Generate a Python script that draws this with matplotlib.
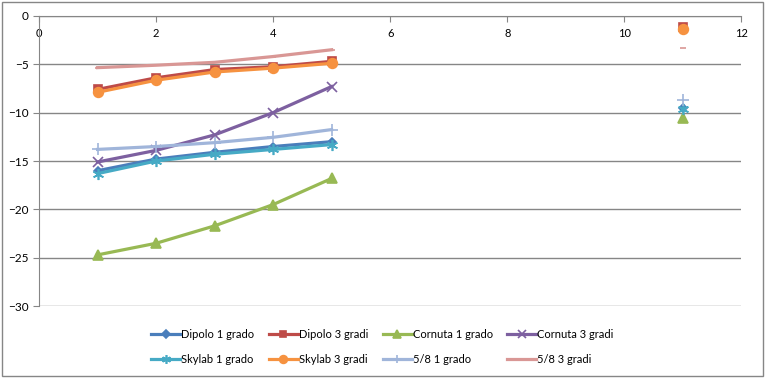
import matplotlib
matplotlib.use("Agg")
from matplotlib import pyplot as plt

plt.rcParams['font.family'] = ['Lato', 'DejaVu Sans']

# x positions of measurements
x = [1, 2, 3, 4, 5, 11]

dipolo1 = [-16.0, -14.8, -14.1, -13.5, -13.0, -9.5]
dipolo3 = [-7.6, -6.4, -5.55, -5.25, -4.7, -1.1]
cornuta1 = [-24.7, -23.5, -21.7, -19.5, -16.8, -10.6]
cornuta3 = [-15.1, -13.9, -12.3, -10.0, -7.3]
skylab1 = [-16.3, -15.0, -14.3, -13.8, -13.3, -9.6]
skylab3 = [-7.9, -6.65, -5.8, -5.4, -4.9, -1.4]
ottavi1 = [-13.8, -13.5, -13.1, -12.55, -11.75, -8.7]
ottavi3 = [-5.35, -5.1, -4.8, -4.2, -3.5, -3.3]

labels = ["Dipolo 1 grado", "Dipolo 3 gradi", "Cornuta 1 grado", "Cornuta 3 gradi",
          "Skylab 1 grado", "Skylab 3 gradi", "5/8 1 grado", "5/8 3 gradi"]
series = [dipolo1, dipolo3, cornuta1, cornuta3, skylab1, skylab3, ottavi1, ottavi3]
colors = ["#4A7EBB", "#BE4B48", "#98B954", "#7D60A0", "#46AAC5", "#F69240", "#A0B5DA", "#D99795"]
markers = ["D", "s", "^", "x", (6, 2, 0), "o", "+", "_"]
msizes = [4.5, 6, 6.5, 7, 8, 7, 8, 5]

fig = plt.figure(figsize=(7.65, 3.78), dpi=100)
ax = fig.add_axes([0.051, 0.19, 0.918, 0.768])

handles = []
for vals, lab, col, mk, ms in zip(series, labels, colors, markers, msizes):
    # points 1..5 are joined, the x=11 point stands alone
    line, = ax.plot(x[:5], vals[:5], color=col, lw=2.3, marker=mk, ms=ms,
                    mec=col, mfc=col, mew=1.2, label=lab)
    handles.append(line)
    if len(vals) > 5:
        ax.plot(x[5:], vals[5:], color=col, lw=0, marker=mk, ms=ms, mec=col, mfc=col, mew=1.2)

ax.set_xlim(0, 12)
ax.set_ylim(-30, 0)
ax.set_xticks(range(0, 13, 2))
ax.set_yticks(range(-30, 1, 5))
ax.grid(axis='y', color='#868686', lw=1)
ax.set_axisbelow(True)

for s in ['right', 'bottom']:
    ax.spines[s].set_visible(False)
ax.spines['top'].set_color('#868686')
ax.spines['left'].set_color('#868686')

ax.tick_params(axis='x', top=True, labeltop=True, bottom=False, labelbottom=False,
               direction='in', length=4, color='#868686', pad=-17, labelsize=8)
ax.tick_params(axis='y', direction='out', length=4, color='#868686', labelsize=8.5)

# legend filled row by row like excel
order = [0, 4, 1, 5, 2, 6, 3, 7]
fig.legend([handles[i] for i in order], [labels[i] for i in order],
           loc='lower center', bbox_to_anchor=(0.5, 0.008), ncol=4, fontsize=8,
           frameon=False, handlelength=2.6, handletextpad=0.1, columnspacing=1.3,
           labelspacing=1.3, markerscale=0.8)

border = plt.Rectangle((0.003, 0.004), 0.994, 0.992, transform=fig.transFigure,
                       fill=False, ec='#868686', lw=1)
fig.patches.append(border)

fig.savefig("out.png", dpi=100)
